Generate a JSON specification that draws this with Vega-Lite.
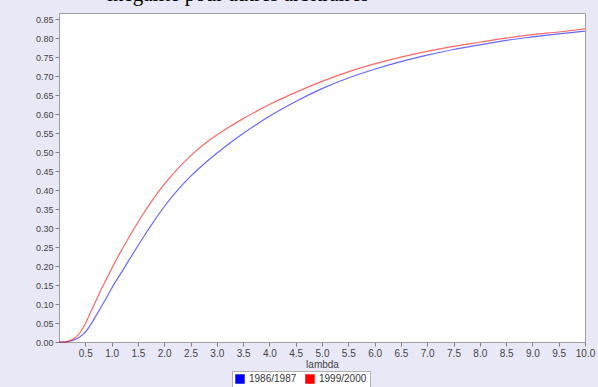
{
  "$schema": "https://vega.github.io/schema/vega-lite/v6.json",
  "width": 526,
  "height": 329,
  "autosize": {"type": "none"},
  "padding": {"left": 59, "top": 13, "right": 13, "bottom": 45},
  "background": "#e8e8f6",
  "title": {
    "text": "inégalité pour autres arbitraires",
    "anchor": "middle",
    "dx": -84,
    "dy": 16,
    "offset": 3,
    "baseline": "bottom",
    "font": "Liberation Serif",
    "fontSize": 21,
    "fontWeight": "normal",
    "color": "#000000",
    "limit": 0
  },
  "config": {
    "view": {"stroke": "#a0a0a0", "fill": "#ffffff"},
    "axis": {
      "domainColor": "#a0a0a0",
      "tickColor": "#808080",
      "tickSize": 4,
      "labelColor": "#444444",
      "labelFont": "Liberation Sans",
      "labelFontSize": 9,
      "titleFont": "Liberation Sans",
      "titleFontSize": 10,
      "titleFontWeight": "normal",
      "titleColor": "#444444",
      "grid": false
    }
  },
  "data": {
    "values": [
      {"lambda": 0, "value": 0, "series": "1986/1987"},
      {"lambda": 0.1, "value": 0, "series": "1986/1987"},
      {"lambda": 0.2, "value": 0.002, "series": "1986/1987"},
      {"lambda": 0.3, "value": 0.006, "series": "1986/1987"},
      {"lambda": 0.4, "value": 0.014, "series": "1986/1987"},
      {"lambda": 0.5, "value": 0.026, "series": "1986/1987"},
      {"lambda": 0.6, "value": 0.045, "series": "1986/1987"},
      {"lambda": 0.7, "value": 0.068, "series": "1986/1987"},
      {"lambda": 0.8, "value": 0.092, "series": "1986/1987"},
      {"lambda": 0.9, "value": 0.116, "series": "1986/1987"},
      {"lambda": 1.0, "value": 0.141, "series": "1986/1987"},
      {"lambda": 1.2, "value": 0.186, "series": "1986/1987"},
      {"lambda": 1.4, "value": 0.231, "series": "1986/1987"},
      {"lambda": 1.6, "value": 0.275, "series": "1986/1987"},
      {"lambda": 1.8, "value": 0.317, "series": "1986/1987"},
      {"lambda": 2.0, "value": 0.356, "series": "1986/1987"},
      {"lambda": 2.25, "value": 0.399, "series": "1986/1987"},
      {"lambda": 2.5, "value": 0.436, "series": "1986/1987"},
      {"lambda": 2.75, "value": 0.468, "series": "1986/1987"},
      {"lambda": 3.0, "value": 0.497, "series": "1986/1987"},
      {"lambda": 3.25, "value": 0.524, "series": "1986/1987"},
      {"lambda": 3.5, "value": 0.549, "series": "1986/1987"},
      {"lambda": 3.75, "value": 0.572, "series": "1986/1987"},
      {"lambda": 4.0, "value": 0.594, "series": "1986/1987"},
      {"lambda": 4.5, "value": 0.633, "series": "1986/1987"},
      {"lambda": 5.0, "value": 0.667, "series": "1986/1987"},
      {"lambda": 5.5, "value": 0.695, "series": "1986/1987"},
      {"lambda": 6.0, "value": 0.718, "series": "1986/1987"},
      {"lambda": 6.5, "value": 0.738, "series": "1986/1987"},
      {"lambda": 7.0, "value": 0.755, "series": "1986/1987"},
      {"lambda": 7.5, "value": 0.77, "series": "1986/1987"},
      {"lambda": 8.0, "value": 0.782, "series": "1986/1987"},
      {"lambda": 8.5, "value": 0.794, "series": "1986/1987"},
      {"lambda": 9.0, "value": 0.803, "series": "1986/1987"},
      {"lambda": 9.5, "value": 0.811, "series": "1986/1987"},
      {"lambda": 10.0, "value": 0.818, "series": "1986/1987"},
      {"lambda": 0, "value": 0, "series": "1999/2000"},
      {"lambda": 0.1, "value": 0, "series": "1999/2000"},
      {"lambda": 0.2, "value": 0.003, "series": "1999/2000"},
      {"lambda": 0.3, "value": 0.01, "series": "1999/2000"},
      {"lambda": 0.4, "value": 0.025, "series": "1999/2000"},
      {"lambda": 0.5, "value": 0.048, "series": "1999/2000"},
      {"lambda": 0.6, "value": 0.078, "series": "1999/2000"},
      {"lambda": 0.7, "value": 0.108, "series": "1999/2000"},
      {"lambda": 0.8, "value": 0.138, "series": "1999/2000"},
      {"lambda": 0.9, "value": 0.165, "series": "1999/2000"},
      {"lambda": 1.0, "value": 0.193, "series": "1999/2000"},
      {"lambda": 1.2, "value": 0.244, "series": "1999/2000"},
      {"lambda": 1.4, "value": 0.292, "series": "1999/2000"},
      {"lambda": 1.6, "value": 0.337, "series": "1999/2000"},
      {"lambda": 1.8, "value": 0.378, "series": "1999/2000"},
      {"lambda": 2.0, "value": 0.415, "series": "1999/2000"},
      {"lambda": 2.25, "value": 0.455, "series": "1999/2000"},
      {"lambda": 2.5, "value": 0.49, "series": "1999/2000"},
      {"lambda": 2.75, "value": 0.52, "series": "1999/2000"},
      {"lambda": 3.0, "value": 0.545, "series": "1999/2000"},
      {"lambda": 3.25, "value": 0.567, "series": "1999/2000"},
      {"lambda": 3.5, "value": 0.588, "series": "1999/2000"},
      {"lambda": 3.75, "value": 0.607, "series": "1999/2000"},
      {"lambda": 4.0, "value": 0.625, "series": "1999/2000"},
      {"lambda": 4.5, "value": 0.657, "series": "1999/2000"},
      {"lambda": 5.0, "value": 0.686, "series": "1999/2000"},
      {"lambda": 5.5, "value": 0.711, "series": "1999/2000"},
      {"lambda": 6.0, "value": 0.732, "series": "1999/2000"},
      {"lambda": 6.5, "value": 0.75, "series": "1999/2000"},
      {"lambda": 7.0, "value": 0.765, "series": "1999/2000"},
      {"lambda": 7.5, "value": 0.778, "series": "1999/2000"},
      {"lambda": 8.0, "value": 0.789, "series": "1999/2000"},
      {"lambda": 8.5, "value": 0.8, "series": "1999/2000"},
      {"lambda": 9.0, "value": 0.809, "series": "1999/2000"},
      {"lambda": 9.5, "value": 0.816, "series": "1999/2000"},
      {"lambda": 10.0, "value": 0.824, "series": "1999/2000"}
    ]
  },
  "mark": {"type": "line", "strokeWidth": 1.2, "opacity": 0.6, "interpolate": "monotone"},
  "encoding": {
    "x": {
      "field": "lambda",
      "type": "quantitative",
      "title": "lambda",
      "scale": {"domain": [0, 10], "nice": false},
      "axis": {
        "values": [0.5, 1, 1.5, 2, 2.5, 3, 3.5, 4, 4.5, 5, 5.5, 6, 6.5, 7, 7.5, 8, 8.5, 9, 9.5, 10],
        "format": ".1f",
        "labelFontSize": 10,
        "labelPadding": 2,
        "titlePadding": 1,
        "labelOverlap": false,
        "labelFlush": false
      }
    },
    "y": {
      "field": "value",
      "type": "quantitative",
      "title": null,
      "scale": {"domain": [0, 0.866], "nice": false},
      "axis": {
        "values": [0, 0.05, 0.1, 0.15, 0.2, 0.25, 0.3, 0.35, 0.4, 0.45, 0.5, 0.55, 0.6, 0.65, 0.7, 0.75, 0.8, 0.85],
        "format": ".2f",
        "labelPadding": 2,
        "labelOverlap": false,
        "labelFlush": false
      }
    },
    "color": {
      "field": "series",
      "type": "nominal",
      "scale": {"domain": ["1986/1987", "1999/2000"], "range": ["#0000ff", "#ff0000"]},
      "legend": {
        "title": null,
        "orient": "none",
        "legendX": 173,
        "legendY": 358,
        "direction": "horizontal",
        "symbolType": "square",
        "symbolSize": 90,
        "symbolStrokeWidth": 0,
        "symbolOpacity": 1,
        "labelFont": "Liberation Sans",
        "labelFontSize": 10,
        "labelColor": "#333333",
        "columnPadding": 8,
        "fillColor": "#ffffff",
        "strokeColor": "#b0b0b0",
        "padding": 3,
        "encode": {
          "symbols": {
            "update": {
              "fill": {"scale": "color", "field": "value"},
              "fillOpacity": {"value": 1},
              "opacity": {"value": 1}
            }
          }
        }
      }
    }
  }
}
